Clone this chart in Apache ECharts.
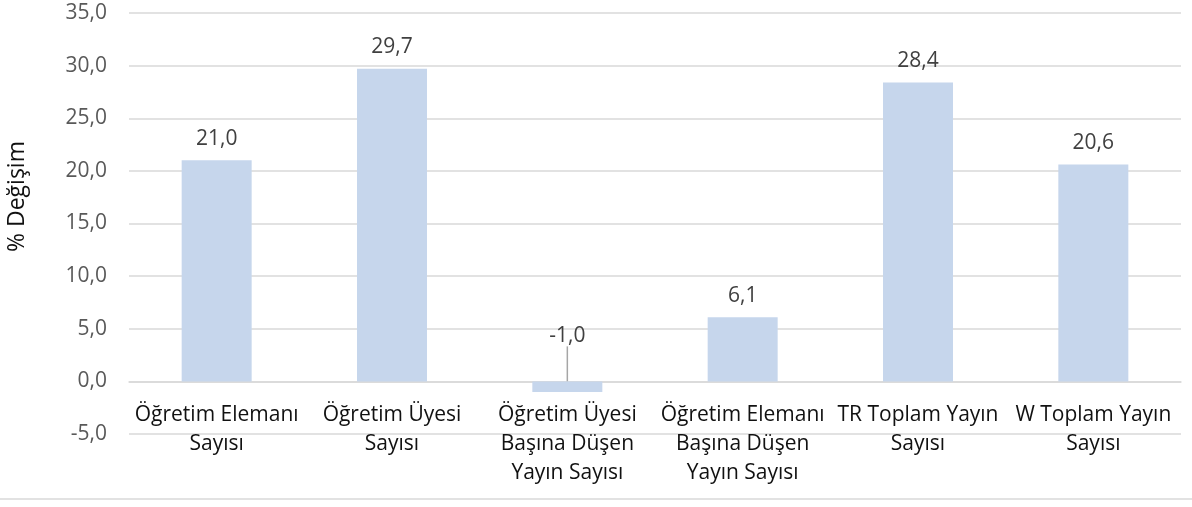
<!DOCTYPE html>
<html>
<head>
<meta charset="utf-8">
<script src="https://cdn.jsdelivr.net/npm/echarts@6/dist/echarts.min.js"></script>
<style>
  html, body { margin: 0; padding: 0; background: #fff; }
  #chart { width: 1192px; height: 507px; }
</style>
</head>
<body>
<div id="chart"></div>
<script>
// categories and values
var categories = [
  'Öğretim Elemanı\nSayısı',
  'Öğretim Üyesi\nSayısı',
  'Öğretim Üyesi\nBaşına Düşen\nYayın Sayısı',
  'Öğretim Elemanı\nBaşına Düşen\nYayın Sayısı',
  'TR Toplam Yayın\nSayısı',
  'W Toplam Yayın\nSayısı'
];
var changes = [21.0, 29.7, -1.0, 6.1, 28.4, 20.6];
var yMin = -5;
var yMax = 35;
var yStep = 5;

var gridTop = 13;
var gridBottom = 73;
var plotHeight = 507 - gridTop - gridBottom;
// category axis sits on the zero line (excel style), v6 keeps labels at the bottom so lift it
var zeroLift = (0 - yMin) / (yMax - yMin) * plotHeight;

function fmt(v) {
  return v.toFixed(1).replace('.', ',');
}

// negative bar gets its label lifted up with a leader line
var barData = changes.map(function (v) {
  if (v < 0) {
    return { value: v, labelLine: { show: true } };
  }
  return v;
});

var myChart = echarts.init(document.getElementById('chart'));

var option = {
  animation: false,
  textStyle: { fontFamily: 'Open Sans' },
  grid: {
    left: 129,
    right: 11,
    top: gridTop,
    bottom: gridBottom,
    containLabel: false,
    outerBoundsMode: 'none'
  },
  xAxis: {
    type: 'category',
    data: categories,
    offset: -zeroLift,
    axisLine: {
      onZero: false,
      lineStyle: { color: '#d9d9d9', width: 1.5 }
    },
    axisTick: { show: false },
    axisLabel: {
      interval: 0,
      margin: 19,
      fontSize: 21,
      lineHeight: 29,
      color: '#111111'
    }
  },
  yAxis: {
    type: 'value',
    min: yMin,
    max: yMax,
    interval: yStep,
    name: '% Değişim',
    nameLocation: 'middle',
    nameGap: 100,
    nameRotate: 90,
    nameTextStyle: { fontSize: 23, color: '#111111', padding: [0, 0, 0, 54] },
    axisLine: { show: false },
    axisTick: { show: false },
    axisLabel: {
      margin: 22,
      fontSize: 21,
      color: '#595959',
      formatter: function (v) { return fmt(v); }
    },
    splitLine: {
      lineStyle: { color: '#d9d9d9', width: 1.5 }
    }
  },
  series: [{
    type: 'bar',
    data: barData,
    barWidth: 70,
    itemStyle: { color: '#c6d6ec' },
    label: {
      show: true,
      position: 'top',
      distance: 11,
      fontSize: 21,
      color: '#404040',
      formatter: function (p) { return fmt(p.value); }
    },
    labelLine: {
      show: false,
      lineStyle: { color: '#a6a6a6', width: 1.5 }
    },
    labelLayout: function (p) {
      if (changes[p.dataIndex] < 0) {
        return { dy: -24 };
      }
      return {};
    }
  }],
  graphic: [{
    type: 'line',
    shape: { x1: 0, y1: 499, x2: 1192, y2: 499 },
    style: { stroke: '#d9d9d9', lineWidth: 1.5 }
  }]
};

myChart.setOption(option);
</script>
</body>
</html>
